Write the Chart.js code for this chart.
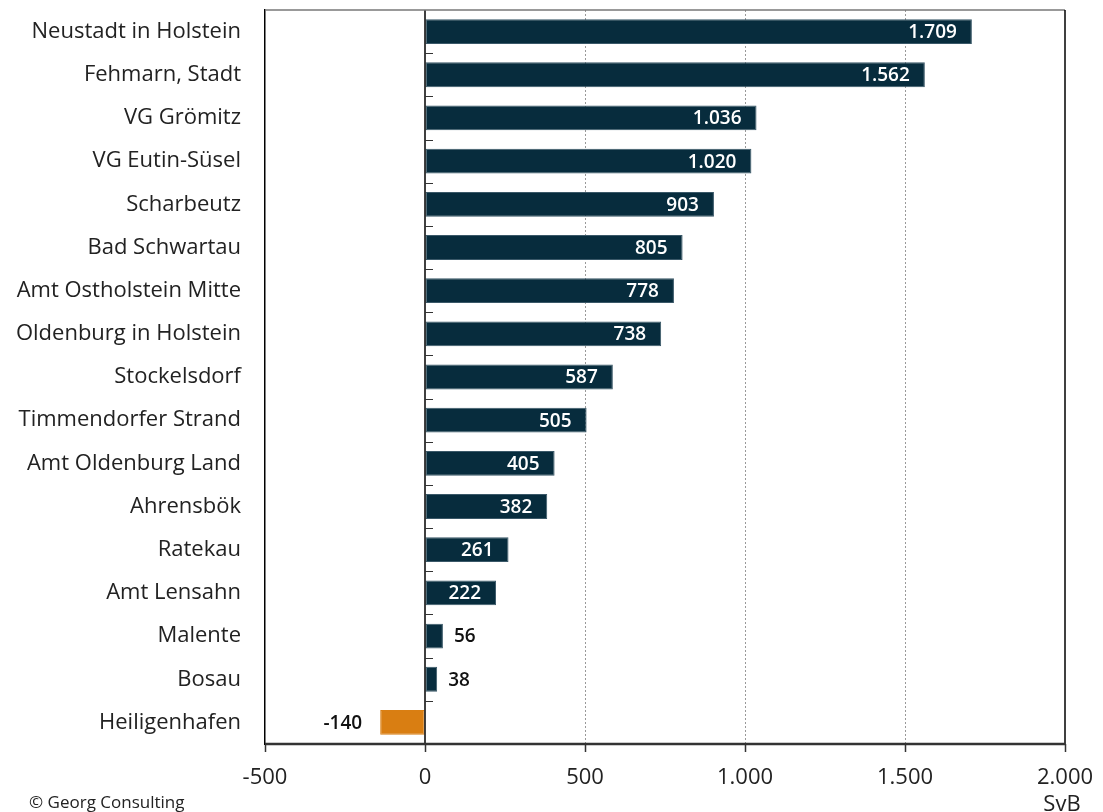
<!DOCTYPE html>
<html><head><meta charset="utf-8">
<script src="https://cdn.jsdelivr.net/npm/chart.js@4/dist/chart.umd.min.js"></script>
<style>html,body{margin:0;padding:0;background:#fff}#wrap{position:relative;width:1103px;height:812px}
#credit{position:absolute;left:29px;top:792px;font:17px "Open Sans",sans-serif;color:#222;line-height:20px}
#unit{position:absolute;left:1012px;top:789px;width:100px;text-align:center;font:22px "Open Sans",sans-serif;color:#222;line-height:26px}
</style></head><body>
<div id="wrap"><canvas id="c" width="1103" height="812"></canvas>
<div id="credit">© Georg Consulting</div><div id="unit">SvB</div></div>
<script>
const categories = ["Neustadt in Holstein","Fehmarn, Stadt","VG Grömitz","VG Eutin-Süsel","Scharbeutz","Bad Schwartau","Amt Ostholstein Mitte","Oldenburg in Holstein","Stockelsdorf","Timmendorfer Strand","Amt Oldenburg Land","Ahrensbök","Ratekau","Amt Lensahn","Malente","Bosau","Heiligenhafen"];
const values = [1709,1562,1036,1020,903,805,778,738,587,505,405,382,261,222,56,38,-140];
const xTicks = [-500,0,500,1000,1500,2000];

function fmt(v){const s=Math.abs(v).toString().replace(/\B(?=(\d{3})+(?!\d))/g,".");return (v<0?"-":"")+s;}
const FONT='"Open Sans", sans-serif';

const overlay={id:'overlay',afterDatasetsDraw(chart){
  const ctx=chart.ctx, ys=chart.scales.y, xs=chart.scales.x, area=chart.chartArea;
  const x0=xs.getPixelForValue(0);
  ctx.save();
  ctx.strokeStyle='#000';ctx.lineWidth=1.5;
  ctx.beginPath();ctx.moveTo(x0,area.top);ctx.lineTo(x0,area.bottom);ctx.stroke();
  ctx.strokeStyle='#333';ctx.lineWidth=1;
  const step=ys.getPixelForValue(1)-ys.getPixelForValue(0);
  for(let i=1;i<categories.length;i++){
    const y=Math.round(ys.getPixelForValue(i)-step/2)+0.5;
    ctx.beginPath();ctx.moveTo(x0,y);ctx.lineTo(x0+8,y);ctx.stroke();
  }
  ctx.font='600 19px '+FONT;ctx.textBaseline='middle';
  const meta=chart.getDatasetMeta(0);
  meta.data.forEach((bar,i)=>{
    const v=values[i], t=fmt(v), w=ctx.measureText(t).width;
    const len=Math.abs(bar.x-x0);
    const y=bar.y+1;
    if(v>=0){
      if(w+24<len){ctx.fillStyle='#fff';ctx.textAlign='right';ctx.fillText(t,bar.x-15,y);}
      else{ctx.fillStyle='#111';ctx.textAlign='left';ctx.fillText(t,bar.x+11,y);}
    }else{ctx.fillStyle='#111';ctx.textAlign='right';ctx.fillText(t,bar.x-18,y);}
  });
  ctx.restore();
}};

new Chart(document.getElementById('c'),{
  type:'bar',
  data:{labels:categories,datasets:[{data:values,
    backgroundColor:values.map(v=>v<0?'#d97e12':'#072c3d'),
    borderColor:values.map(v=>v<0?'#d97e12':'#3a5868'),
    borderWidth:1,borderSkipped:false,
    barPercentage:0.575,categoryPercentage:1}]},
  options:{indexAxis:'y',responsive:false,animation:false,
    layout:{padding:{top:10,right:38,left:0,bottom:0}},
    plugins:{legend:{display:false},tooltip:{enabled:false}},
    scales:{
      x:{min:-500,max:2000,
        afterBuildTicks(s){s.ticks=xTicks.map(v=>({value:v}));},
        afterFit(s){s.height=68;s.paddingLeft=0;s.paddingRight=0;},
        border:{display:false,dash:[2,2]},
        grid:{drawOnChartArea:true,tickLength:8,tickColor:'#333',tickWidth:1.5,
          color:c=>(c.tick&&(c.tick.value===0||c.tick.value===-500||c.tick.value===2000))?'rgba(0,0,0,0)':'#999',
          lineWidth:1,tickBorderDash:[0,0]},
        ticks:{padding:13,color:'#222',font:{family:FONT,size:22},callback:v=>fmt(v)}},
      y:{afterFit(s){s.width=265;s.paddingTop=0;s.paddingBottom=0;},
        border:{display:true,color:'#000',width:1.5},
        grid:{display:false,drawTicks:false},
        ticks:{padding:24,color:'#222',font:{family:FONT,size:22}}}
    }},
  plugins:[overlay,{id:'frame',afterDraw(chart){
    const ctx=chart.ctx,a=chart.chartArea;ctx.save();
    ctx.strokeStyle='#777';ctx.lineWidth=1.5;ctx.beginPath();ctx.moveTo(a.left,a.top);ctx.lineTo(a.right,a.top);ctx.stroke();
    ctx.strokeStyle='#000';ctx.lineWidth=1.5;ctx.beginPath();ctx.moveTo(a.right,a.top);ctx.lineTo(a.right,a.bottom);ctx.stroke();
    ctx.strokeStyle='#333';ctx.lineWidth=2.5;ctx.beginPath();ctx.moveTo(a.left,a.bottom);ctx.lineTo(a.right,a.bottom);ctx.stroke();
    ctx.restore();}}]
});
</script></body></html>
